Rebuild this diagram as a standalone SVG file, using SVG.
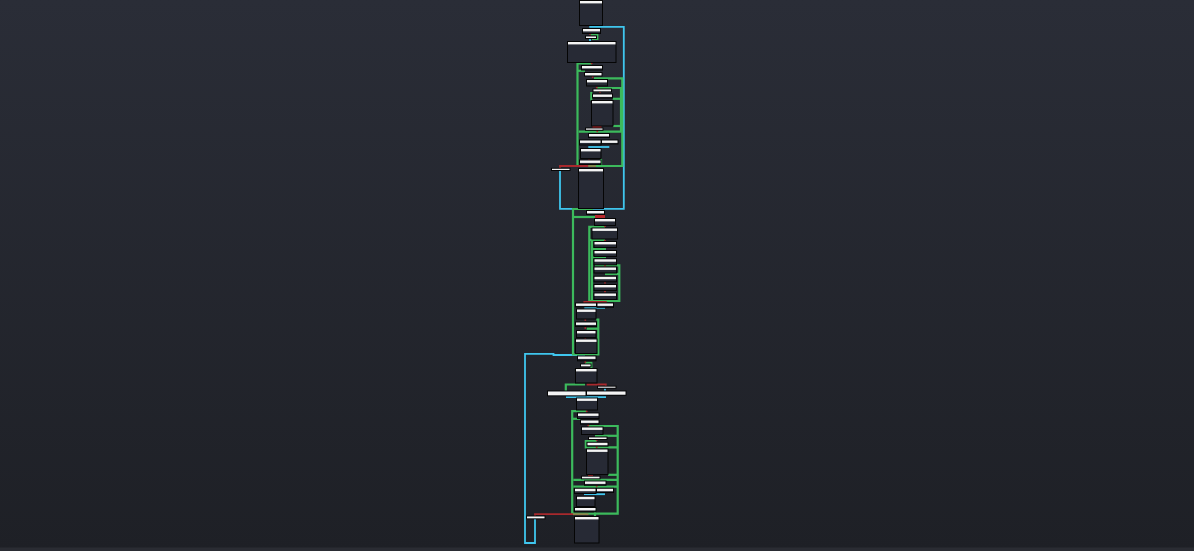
<svg xmlns="http://www.w3.org/2000/svg" width="1194" height="551" viewBox="0 0 1194 551">
<defs>
<linearGradient id="bg" x1="0" y1="0" x2="0" y2="1">
<stop offset="0" stop-color="#2a2d37"/>
<stop offset="1" stop-color="#1e2026"/>
</linearGradient>
<style>
.b{fill:#272a35;stroke:#050505;stroke-width:1}
.h{fill:#f4f4f4}
.c{fill:none;stroke:#3fc6ee;stroke-width:1.8}
.g{fill:none;stroke:#3cba5c;stroke-width:2.2}
.r{fill:none;stroke:#a8292d;stroke-width:1.8}
.t{fill:none;stroke:#8c8049;stroke-width:1.8}
.rt{fill:#b8282c}
</style>
</defs>
<rect x="0" y="0" width="1194" height="551" fill="url(#bg)"/>
<rect x="0" y="547.5" width="1194" height="3.5" fill="#2a2c33"/>
<g id="connectors">
<path class="c" d="M589.3,26.8 H623.8 V208.8 H560 V170.5"/>
<path class="c" d="M588.3,147 H609.3"/>
<path class="c" d="M584.3,307.8 H605"/>
<path class="c" d="M585,355 H553.5 V353.8 H525 V543 H535 V519"/>
<path class="c" d="M566,397.2 H606"/>
<path class="c" d="M605,388.3 V391"/>
<path class="c" d="M584,494.2 H605"/>
<path class="c" d="M590,38.8 V41"/>
<path class="g" d="M590.5,34.3 H597.3 V39 H592"/>
<path class="g" d="M591.7,63.3 H577.5 V166 H596"/>
<path class="g" d="M577.5,70.8 H585"/>
<path class="g" d="M594,78.3 H622.3 V166 H596"/>
<path class="g" d="M596.7,88 H621 V131.7"/>
<path class="g" d="M612.7,98.8 H621"/>
<path class="g" d="M613,126 H621"/>
<path class="g" d="M578.7,131.7 H621.7"/>
<path class="g" d="M591.3,92 V100.5"/>
<path class="g" d="M601,158.7 V165"/>
<path class="g" d="M593,209 H573 V354.5 H598.3 V319.5 H596"/>
<path class="g" d="M573,217 H595"/>
<path class="g" d="M586.7,328.7 H598.3"/>
<path class="g" d="M605,226.8 H589.3 V301 H619.3 V265.3 H595"/>
<path class="g" d="M605,240 H589.3"/>
<path class="g" d="M592,240 V300"/>
<path class="g" d="M606,249 H592"/>
<path class="g" d="M606,257.3 H592"/>
<path class="g" d="M605,274 H619.3"/>
<path class="g" d="M585,362.8 H591.3 V368"/>
<path class="g" d="M585,384.5 H565.8 V391"/>
<path class="g" d="M586.7,411.2 H572.2 V513.7 H595 V516.5"/>
<path class="g" d="M588.3,426 H617.7 V513.7 H595"/>
<path class="g" d="M572.2,418.8 H580.5"/>
<path class="g" d="M595,435.8 H617.7"/>
<path class="g" d="M596.7,441 H585.8 V447.3 H617.7"/>
<path class="g" d="M608,474.8 H617.7"/>
<path class="g" d="M573.3,479.8 H617.7"/>
<path class="g" d="M573.3,486.7 H617.7"/>
<path class="g" d="M595,507 V513.7"/>
<path class="r" d="M560,168 V166 H588.5"/>
<path class="t" d="M588.5,166 H596"/>
<path class="r" d="M535,516 V514.2 H573"/>
<path class="t" d="M573,514.2 H588.5"/>
<path class="r" d="M606.7,301.8 H584.3 V303"/>
<path class="r" d="M586.7,384.5 H605.8 V386.2"/>
<rect class="rt" x="592.5" y="126" width="9" height="2"/>
<rect class="rt" x="595" y="215" width="10" height="3"/>
<rect class="rt" x="588" y="474.8" width="5" height="2"/>
<rect class="rt" x="589.2" y="33.2" width="1.6" height="1.6"/>
<rect class="rt" x="590.9" y="62.5" width="1.6" height="1.6"/>
<rect class="rt" x="591.9" y="76.2" width="1.6" height="1.6"/>
<rect class="rt" x="595.9" y="86.9" width="1.6" height="1.6"/>
<rect class="rt" x="599.2" y="91.5" width="1.6" height="1.6"/>
<rect class="rt" x="596.5" y="130.5" width="1.6" height="1.6"/>
<rect class="rt" x="588.2" y="157.9" width="1.6" height="1.6"/>
<rect class="rt" x="604.2" y="225.5" width="1.6" height="1.6"/>
<rect class="rt" x="604.2" y="239.9" width="1.6" height="1.6"/>
<rect class="rt" x="604.2" y="264.9" width="1.6" height="1.6"/>
<rect class="rt" x="604.2" y="281.9" width="1.6" height="1.6"/>
<rect class="rt" x="604.2" y="290.9" width="1.6" height="1.6"/>
<rect class="rt" x="584.5" y="319.2" width="1.6" height="1.6"/>
<rect class="rt" x="584.5" y="327.2" width="1.6" height="1.6"/>
<rect class="rt" x="584.5" y="337.2" width="1.6" height="1.6"/>
<rect class="rt" x="584.5" y="361.2" width="1.6" height="1.6"/>
<rect class="rt" x="585.9" y="410.5" width="1.6" height="1.6"/>
<rect class="rt" x="587.5" y="424.5" width="1.6" height="1.6"/>
<rect class="rt" x="595.9" y="439.2" width="1.6" height="1.6"/>
<rect class="rt" x="595.9" y="446.5" width="1.6" height="1.6"/>
<rect class="rt" x="595.9" y="485.2" width="1.6" height="1.6"/>
<rect class="rt" x="584.2" y="505.9" width="1.6" height="1.6"/>
</g>
<g id="n01"><rect class="b" x="579.5" y="0.5" width="23" height="25"/><rect class="h" x="580" y="1" width="22" height="2.4"/></g>
<g id="n02"><rect class="b" x="582.5" y="28.5" width="18" height="5"/><rect class="h" x="583" y="29" width="17" height="2.4"/></g>
<g id="n03"><rect class="b" x="585.5" y="36" width="11" height="2.5"/><rect class="h" x="586" y="36.5" width="10" height="1.5"/></g>
<g id="n04"><rect class="b" x="567.5" y="41.5" width="48.5" height="21"/><rect class="h" x="568" y="42" width="47.5" height="2.4"/></g>
<g id="n05"><rect class="b" x="581.5" y="65.5" width="21" height="4.5"/><rect class="h" x="582" y="66" width="20" height="2.4"/></g>
<g id="n06"><rect class="b" x="584.5" y="72.5" width="17.5" height="3.5"/><rect class="h" x="585" y="73" width="16.5" height="2.4"/></g>
<g id="n07"><rect class="b" x="586.5" y="79.5" width="21" height="6.5"/><rect class="h" x="587" y="80" width="20" height="2.4"/></g>
<g id="n08"><rect class="b" x="593" y="89" width="18.5" height="2.8"/><rect class="h" x="593.5" y="89.5" width="17.5" height="1.8"/></g>
<g id="n09"><rect class="b" x="592.5" y="94" width="20" height="4"/><rect class="h" x="593" y="94.5" width="19" height="2.4"/></g>
<g id="n10"><rect class="b" x="591.5" y="100.5" width="21.5" height="25.5"/><rect class="h" x="592" y="101" width="20.5" height="2.4"/></g>
<g id="n11"><rect class="b" x="585.5" y="128" width="17.5" height="2.2"/><rect class="h" x="586" y="128.5" width="16.5" height="1.2"/></g>
<g id="n12"><rect class="b" x="588.5" y="133.5" width="21" height="4"/><rect class="h" x="589" y="134" width="20" height="2.4"/></g>
<g id="n13"><rect class="b" x="579.5" y="140" width="21.5" height="5"/><rect class="h" x="580" y="140.5" width="20.5" height="2.4"/></g>
<g id="n14"><rect class="b" x="601.5" y="140" width="16.5" height="4"/><rect class="h" x="602" y="140.5" width="15.5" height="2.4"/></g>
<g id="n15"><rect class="b" x="580.5" y="148.5" width="20.5" height="10"/><rect class="h" x="581" y="149" width="19.5" height="2.4"/></g>
<g id="n16"><rect class="b" x="579.5" y="160" width="21.5" height="4.5"/><rect class="h" x="580" y="160.5" width="20.5" height="2.4"/></g>
<g id="n17"><rect class="b" x="551.5" y="168.3" width="18.5" height="2.2"/><rect class="h" x="552" y="168.8" width="17.5" height="1.2"/></g>
<g id="n18"><rect class="b" x="578.5" y="168.5" width="25" height="40"/><rect class="h" x="579" y="169" width="24" height="2.4"/></g>
<g id="n19"><rect class="b" x="586.5" y="210.5" width="18" height="4"/><rect class="h" x="587" y="211" width="17" height="2.4"/></g>
<g id="n20"><rect class="b" x="594.5" y="218.5" width="21" height="7"/><rect class="h" x="595" y="219" width="20" height="2.4"/></g>
<g id="n21"><rect class="b" x="592" y="228" width="25.5" height="11"/><rect class="h" x="592.5" y="228.5" width="24.5" height="2.4"/></g>
<g id="n22"><rect class="b" x="594" y="241.5" width="22.5" height="6"/><rect class="h" x="594.5" y="242" width="21.5" height="2.4"/></g>
<g id="n23"><rect class="b" x="594" y="250.5" width="22.5" height="6"/><rect class="h" x="594.5" y="251" width="21.5" height="2.4"/></g>
<g id="n24"><rect class="b" x="594" y="258.8" width="22.5" height="6"/><rect class="h" x="594.5" y="259.3" width="21.5" height="2.4"/></g>
<g id="n25"><rect class="b" x="594" y="267" width="22.5" height="6"/><rect class="h" x="594.5" y="267.5" width="21.5" height="2.4"/></g>
<g id="n26"><rect class="b" x="594" y="276.3" width="22.5" height="5.5"/><rect class="h" x="594.5" y="276.8" width="21.5" height="2.4"/></g>
<g id="n27"><rect class="b" x="594" y="284.5" width="22.5" height="6"/><rect class="h" x="594.5" y="285" width="21.5" height="2.4"/></g>
<g id="n28"><rect class="b" x="594" y="293" width="22.5" height="6.5"/><rect class="h" x="594.5" y="293.5" width="21.5" height="2.4"/></g>
<g id="n29"><rect class="b" x="575.5" y="303" width="21" height="3.8"/><rect class="h" x="576" y="303.5" width="20" height="2.4"/></g>
<g id="n30"><rect class="b" x="597" y="303" width="16.5" height="4.3"/><rect class="h" x="597.5" y="303.5" width="15.5" height="2.4"/></g>
<g id="n31"><rect class="b" x="576.5" y="309" width="19.5" height="10"/><rect class="h" x="577" y="309.5" width="18.5" height="2.4"/></g>
<g id="n32"><rect class="b" x="575.5" y="322" width="21" height="4.5"/><rect class="h" x="576" y="322.5" width="20" height="2.4"/></g>
<g id="n33"><rect class="b" x="576.5" y="330.5" width="19.5" height="7"/><rect class="h" x="577" y="331" width="18.5" height="2.4"/></g>
<g id="n34"><rect class="b" x="575.5" y="339" width="21.5" height="14.5"/><rect class="h" x="576" y="339.5" width="20.5" height="2.4"/></g>
<g id="n35"><rect class="b" x="577.5" y="356" width="18.5" height="4.8"/><rect class="h" x="578" y="356.5" width="17.5" height="2.4"/></g>
<g id="n36"><rect class="b" x="580.5" y="364" width="10.5" height="2.8"/><rect class="h" x="581" y="364.5" width="9.5" height="1.8"/></g>
<g id="n37"><rect class="b" x="575.5" y="368.5" width="21.5" height="14.5"/><rect class="h" x="576" y="369" width="20.5" height="2.4"/></g>
<g id="n38"><rect class="b" x="597.5" y="386.2" width="18.5" height="2"/><rect class="h" x="598" y="386.7" width="17.5" height="1"/></g>
<g id="n39"><rect class="b" x="547.5" y="391" width="38.5" height="4.8"/><rect class="h" x="548" y="391.5" width="37.5" height="3.8"/></g>
<g id="n40"><rect class="b" x="586.5" y="391" width="39.5" height="4.2"/><rect class="h" x="587" y="391.5" width="38.5" height="3.2"/></g>
<g id="n41"><rect class="b" x="576.5" y="398" width="21" height="12"/><rect class="h" x="577" y="398.5" width="20" height="2.4"/></g>
<g id="n42"><rect class="b" x="577.5" y="413" width="21.5" height="5.5"/><rect class="h" x="578" y="413.5" width="20.5" height="2.4"/></g>
<g id="n43"><rect class="b" x="580.5" y="420" width="18.5" height="4.2"/><rect class="h" x="581" y="420.5" width="17.5" height="2.4"/></g>
<g id="n44"><rect class="b" x="581.5" y="427" width="21.5" height="7.5"/><rect class="h" x="582" y="427.5" width="20.5" height="2.4"/></g>
<g id="n45"><rect class="b" x="588.5" y="437" width="18.5" height="2.5"/><rect class="h" x="589" y="437.5" width="17.5" height="1.5"/></g>
<g id="n46"><rect class="b" x="587" y="442.3" width="21" height="3.8"/><rect class="h" x="587.5" y="442.8" width="20" height="2.4"/></g>
<g id="n47"><rect class="b" x="586.5" y="449" width="21.5" height="25.5"/><rect class="h" x="587" y="449.5" width="20.5" height="2.4"/></g>
<g id="n48"><rect class="b" x="581.5" y="476.2" width="18.5" height="2.6"/><rect class="h" x="582" y="476.7" width="17.5" height="1.6"/></g>
<g id="n49"><rect class="b" x="584.5" y="481" width="21.5" height="4.2"/><rect class="h" x="585" y="481.5" width="20.5" height="2.4"/></g>
<g id="n50"><rect class="b" x="574.5" y="488.3" width="21.5" height="5.2"/><rect class="h" x="575" y="488.8" width="20.5" height="2.4"/></g>
<g id="n51"><rect class="b" x="596.5" y="488.3" width="17" height="4.2"/><rect class="h" x="597" y="488.8" width="16" height="2.4"/></g>
<g id="n52"><rect class="b" x="576.5" y="496.3" width="18.5" height="10.2"/><rect class="h" x="577" y="496.8" width="17.5" height="2.4"/></g>
<g id="n53"><rect class="b" x="574.5" y="507.5" width="21.5" height="4.3"/><rect class="h" x="575" y="508" width="20.5" height="2.4"/></g>
<g id="n54"><rect class="b" x="526.5" y="516" width="18.5" height="2.8"/><rect class="h" x="527" y="516.5" width="17.5" height="1.8"/></g>
<g id="n55"><rect class="b" x="574.5" y="516.5" width="24.5" height="26.5"/><rect class="h" x="575" y="517" width="23.5" height="2.4"/></g>
</svg>
